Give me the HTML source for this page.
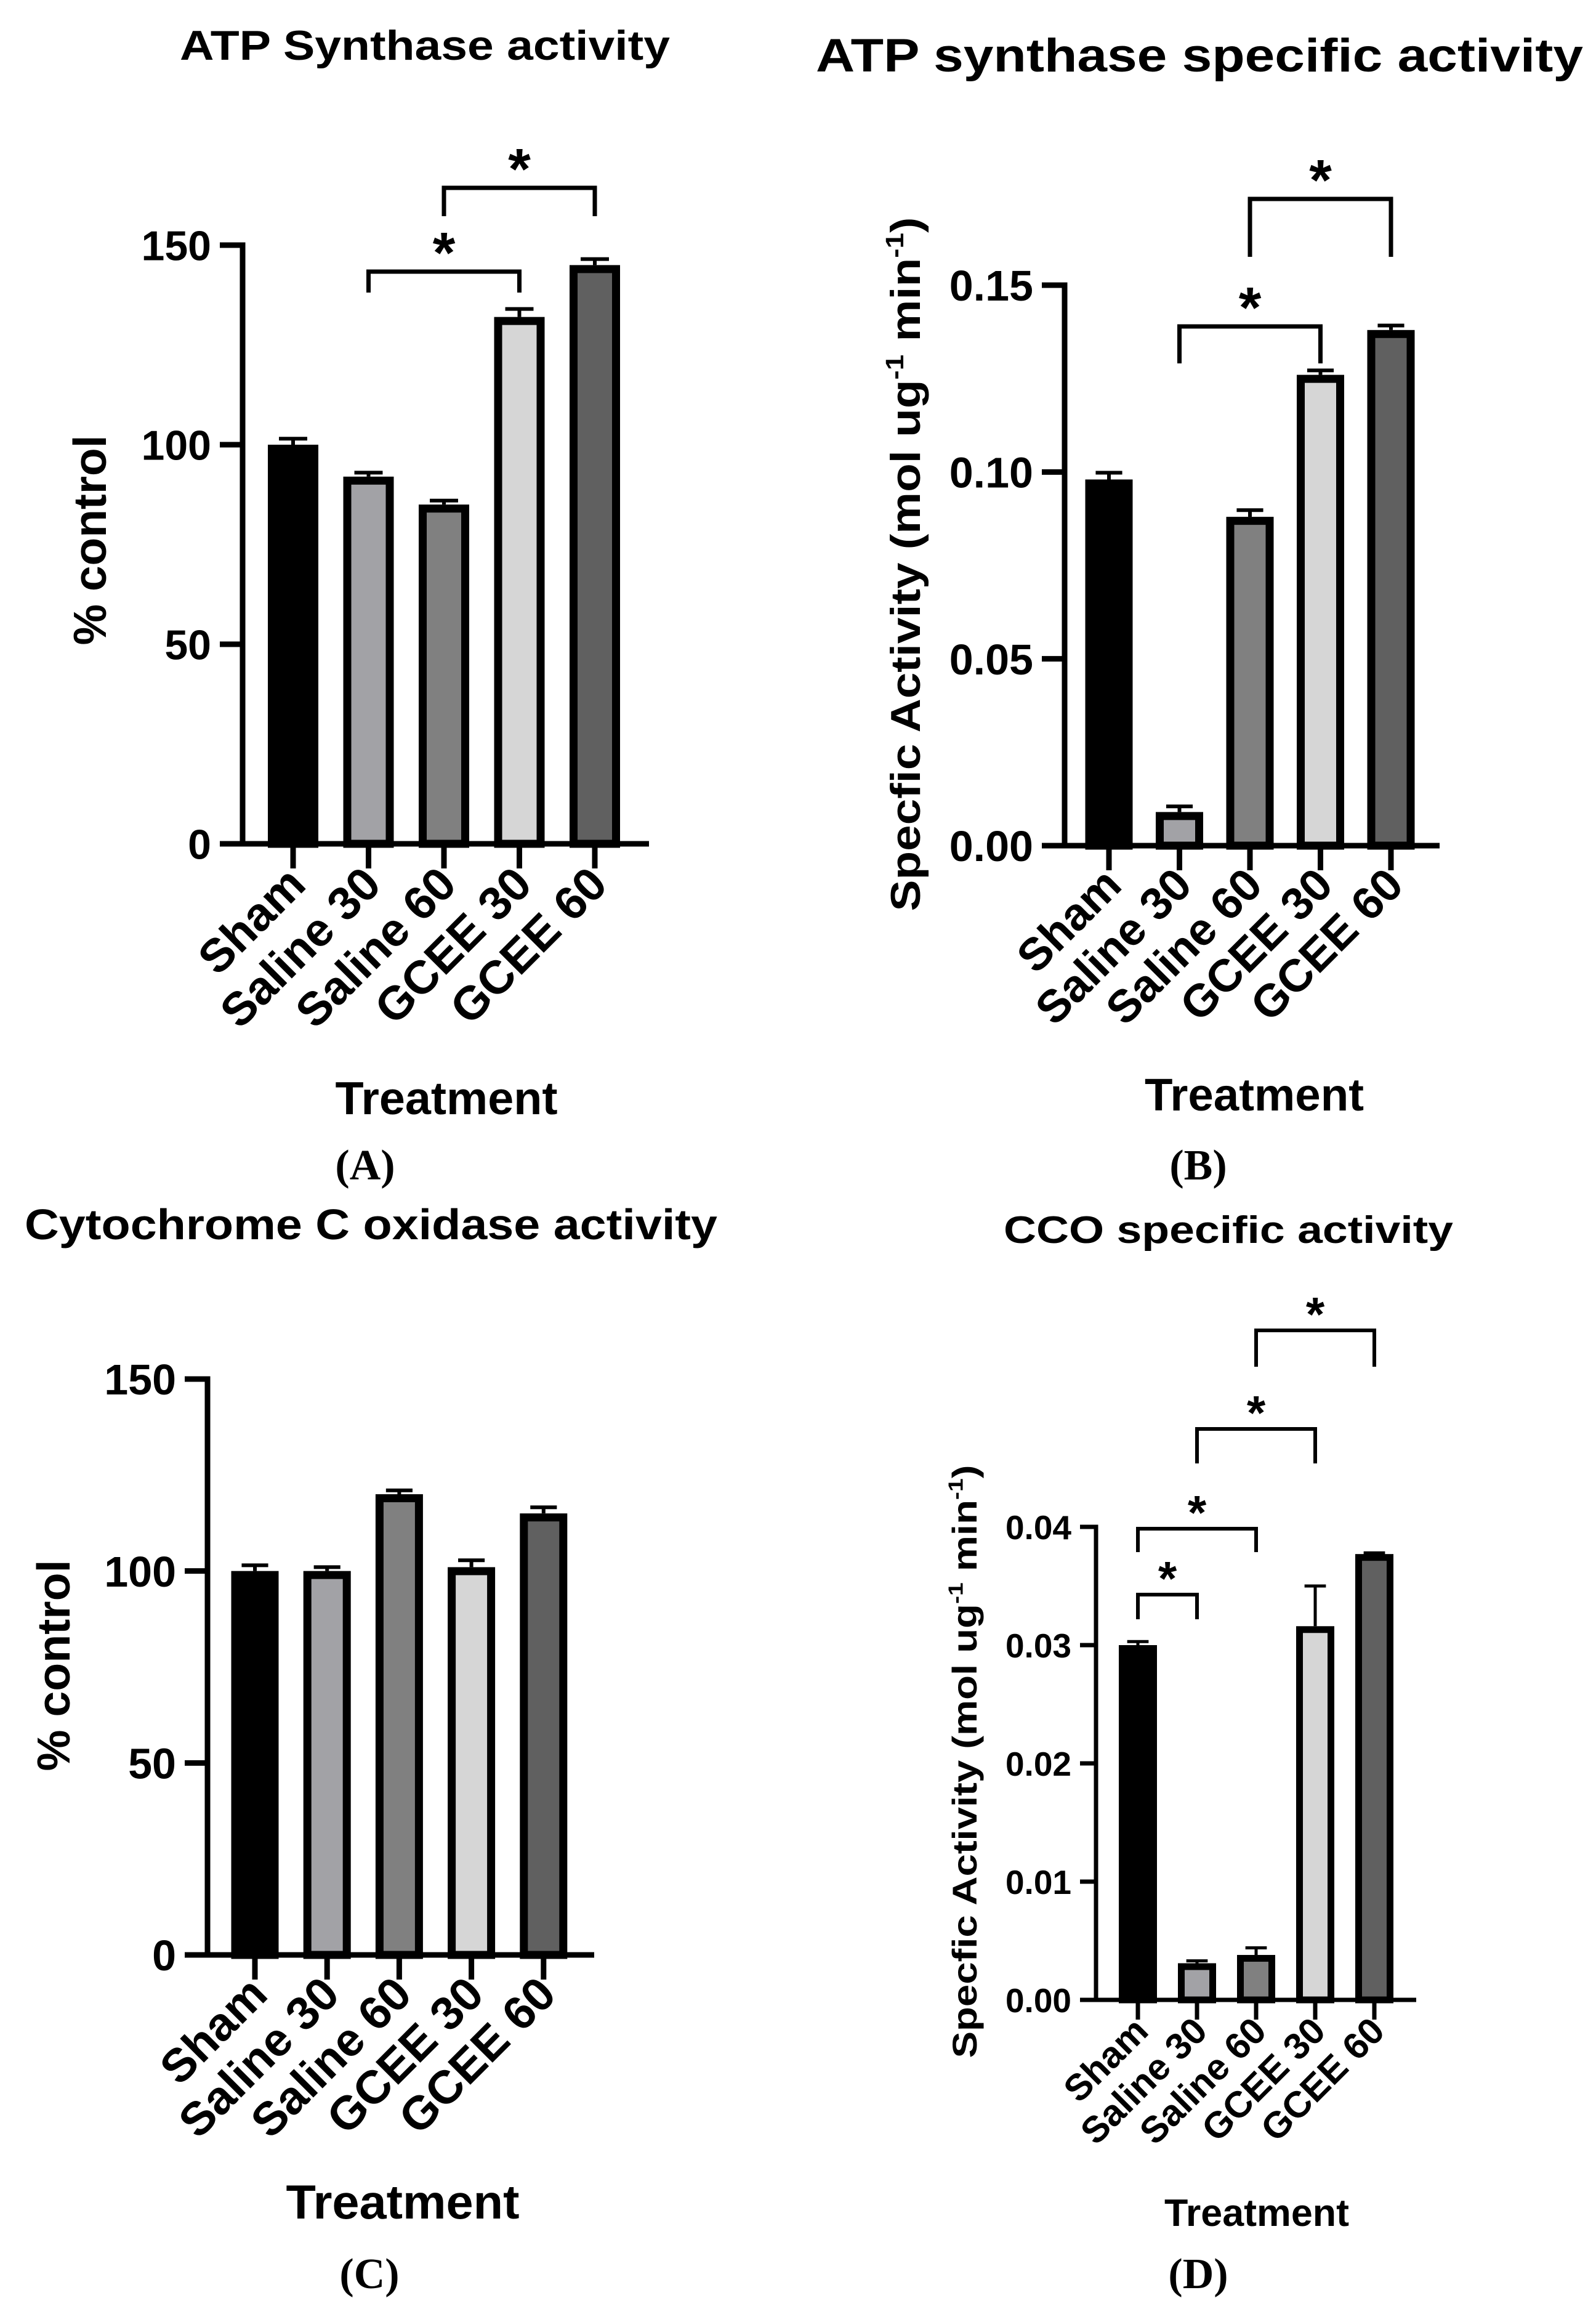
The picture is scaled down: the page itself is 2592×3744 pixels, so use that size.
<!DOCTYPE html>
<html><head><meta charset="utf-8"><style>
html,body{margin:0;padding:0;background:#fff}
svg{display:block}
text{font-family:"Liberation Sans",sans-serif;font-weight:bold;fill:#000}
.paren{font-family:"Liberation Serif",serif;font-weight:bold}
</style></head><body>
<svg id="fig" width="2592" height="3744" viewBox="0 0 2592 3744" xmlns="http://www.w3.org/2000/svg"></svg>
<script>
const categories = ["Sham","Saline 30","Saline 60","GCEE 30","GCEE 60"];
const barColors = ["#000000","#a2a2a6","#808080","#d6d6d6","#606060"];
const valuesA = [100, 92, 85, 132, 145];
const errorsA = [1.5, 1, 1, 2, 1.5];
const ticksA = [0, 50, 100, 150];
const tickLabelsA = ["0","50","100","150"];
const valuesB = [0.098, 0.009, 0.088, 0.126, 0.138];
const errorsB = [0.0018, 0.0015, 0.0018, 0.0012, 0.0012];
const ticksB = [0, 0.05, 0.10, 0.15];
const tickLabelsB = ["0.00","0.05","0.10","0.15"];
const valuesC = [100, 100, 120, 101, 115];
const errorsC = [1.5, 1, 1, 1.8, 1.6];
const ticksC = [0, 50, 100, 150];
const tickLabelsC = ["0","50","100","150"];
const valuesD = [0.0300, 0.0031, 0.0038, 0.0316, 0.0377];
const errorsD = [0.0003, 0.0002, 0.0006, 0.0034, 0.0001];
const ticksD = [0, 0.01, 0.02, 0.03, 0.04];
const tickLabelsD = ["0.00","0.01","0.02","0.03","0.04"];

const NS = "http://www.w3.org/2000/svg";
const svg = document.getElementById("fig");
function mk(tag, attrs, parent){
  const e = document.createElementNS(NS, tag);
  for (const k in attrs) e.setAttribute(k, attrs[k]);
  (parent||svg).appendChild(e);
  return e;
}

function panel(cfg){
  const g = mk("g", {});
  
  
  const yS = v => cfg.y0 - (v - 0) * (cfg.y0 - cfg.yTop) / (cfg.ticks[cfg.ticks.length-1]);
  const xS = i => cfg.cx0 + i * cfg.step;
  cfg.values.forEach((v, i) => {
    const x = xS(i), w = cfg.barW, sw = cfg.barStroke;
    const top = yS(v);
    const r = mk("rect", {x: x - w/2 + sw/2, y: top + sw/2, width: w - sw, height: cfg.y0 - top - sw/2, fill: cfg.colors[i], stroke: "#000", "stroke-width": sw}, g);
    
    
    const et = yS(v + cfg.errors[i]);
    const el = mk("path", {d: `M${x} ${top} V${et} M${x - w*0.28} ${et} H${x + w*0.28}`, stroke: "#000", "stroke-width": cfg.errW, fill: "none"}, g);
    
    
  });
  const ax = mk("path", {d: `M${cfg.x0} ${cfg.yTop - cfg.axW/2} V${cfg.y0} M${cfg.tickL} ${cfg.y0} H${cfg.xEnd}`, stroke: "#000", "stroke-width": cfg.axW, fill: "none"}, g);
  
  
  cfg.ticks.forEach((t, k) => {
    const y = yS(t);
    const tk = mk("path", {d: `M${cfg.tickL} ${y} H${cfg.x0}`, stroke: "#000", "stroke-width": cfg.axW}, g);
    
    
    const tl = mk("text", {x: cfg.tickL - 14, y: y + cfg.tickFont*0.36, "text-anchor": "end", "font-size": cfg.tickFont}, g);
    tl.textContent = cfg.tickLabels[k];
    
    
  });
  categories.forEach((c, i) => {
    const x = xS(i);
    const tk = mk("path", {d: `M${x} ${cfg.y0} V${cfg.y0 + cfg.tickLen}`, stroke: "#000", "stroke-width": cfg.axW}, g);
    
    
    const lx = x + cfg.labDx, ly = cfg.y0 + cfg.tickLen + cfg.labDy;
    const tl = mk("text", {x: lx, y: ly, "text-anchor": "end", "font-size": cfg.catFont, transform: `rotate(-45 ${lx} ${ly})`}, g);
    tl.textContent = c;
    
    
  });
  const tt = mk("text", {x: cfg.title[1], y: cfg.title[2], "font-size": cfg.title[3], textLength: cfg.title[4], lengthAdjust: "spacingAndGlyphs"}, g);
  tt.textContent = cfg.title[0];
  
  
  const yl = mk("text", {x: 0, y: 0, "text-anchor": "middle", "font-size": cfg.ylab.size, textLength: cfg.ylab.len, lengthAdjust: "spacingAndGlyphs", transform: `translate(${cfg.ylab.x} ${cfg.ylab.y}) rotate(-90)`}, g);
  if (cfg.ylab.sup) {
    yl.innerHTML = 'Specfic Activity (mol ug<tspan dy="-' + (cfg.ylab.size*0.4) + '" font-size="' + (cfg.ylab.size*0.6) + '">-1</tspan><tspan dy="' + (cfg.ylab.size*0.4) + '"> min</tspan><tspan dy="-' + (cfg.ylab.size*0.4) + '" font-size="' + (cfg.ylab.size*0.6) + '">-1</tspan><tspan dy="' + (cfg.ylab.size*0.4) + '">)</tspan>';
  } else yl.textContent = cfg.ylab.text;
  
  
  const xl = mk("text", {x: cfg.xlab[0], y: cfg.xlab[1], "text-anchor": "middle", "font-size": cfg.xlab[2], textLength: cfg.xlab[3], lengthAdjust: "spacingAndGlyphs"}, g);
  xl.textContent = "Treatment";
  
  
  const pl = mk("text", {x: cfg.letter[1], y: cfg.letter[2], "text-anchor": "middle", "font-size": 70, "class": "paren"}, g);
  pl.textContent = cfg.letter[0];
  
  
  cfg.brackets.forEach(b => {
    const x1 = xS(b[0]), x2 = xS(b[1]);
    const p = mk("path", {d: `M${x1} ${b[3]} V${b[2]} H${x2} V${b[3]}`, stroke: "#000", "stroke-width": cfg.brW, fill: "none"}, g);
    
    
    const s = mk("text", {x: (x1 + x2)/2, y: b[2] - cfg.starGap + cfg.starSize*0.57, "text-anchor": "middle", "font-size": cfg.starSize}, g);
    s.textContent = "*";
    
    
  });
}

panel({id:"panel-a", values: valuesA, errors: errorsA, ticks: ticksA, tickLabels: tickLabelsA, colors: barColors,
  x0:394, y0:1370, yTop:398, cx0:476, step:122.5, barW:82, barStroke:13, errW:6, axW:9, tickL:357, xEnd:1054, tickLen:40,
  tickFont:68, catFont:76, labDx:24, labDy:30,
  title:["ATP Synthase activity",292,97,68,796],
  ylab:{text:"% control", x:172, y:877, size:75, len:341},
  xlab:[725,1809,75,361], letter:["(A)",593,1915],
  brackets:[[1,3,441,475],[2,4,305,351]], brW:7, starSize:94, starGap:52});

panel({id:"panel-b", values: valuesB, errors: errorsB, ticks: ticksB, tickLabels: tickLabelsB, colors: barColors,
  x0:1729, y0:1373, yTop:463, cx0:1801, step:114.5, barW:77, barStroke:13, errW:6, axW:9, tickL:1692, xEnd:2338, tickLen:40,
  tickFont:70, catFont:74, labDx:24, labDy:28,
  title:["ATP synthase specific activity",1325,116,76,1246],
  ylab:{sup:true, x:1494, y:916, size:68, len:1127},
  xlab:[2037,1803,74,356], letter:["(B)",1946,1915],
  brackets:[[1,3,530,590],[2,4,323,417]], brW:7, starSize:94, starGap:52});

panel({id:"panel-c", values: valuesC, errors: errorsC, ticks: ticksC, tickLabels: tickLabelsC, colors: barColors,
  x0:337, y0:3174, yTop:2239, cx0:414, step:117.2, barW:77, barStroke:13, errW:6, axW:9, tickL:300, xEnd:965, tickLen:40,
  tickFont:70, catFont:76, labDx:24, labDy:28,
  title:["Cytochrome C oxidase activity",40,2012,70,1125],
  ylab:{text:"% control", x:113, y:2704, size:75, len:343},
  xlab:[654,3602,78,379], letter:["(C)",600,3715],
  brackets:[], brW:7, starSize:94, starGap:52});

panel({id:"panel-d", values: valuesD, errors: errorsD, ticks: ticksD, tickLabels: tickLabelsD, colors: barColors,
  x0:1780, y0:3247, yTop:2479, cx0:1848, step:96, barW:62, barStroke:11, errW:5, axW:7, tickL:1754, xEnd:2300, tickLen:32,
  tickFont:55, catFont:60, labDx:20, labDy:22,
  title:["CCO specific activity",1630,2018,62,730],
  ylab:{sup:true, x:1586, y:2860, size:56, len:963},
  xlab:[2041,3614,62,300], letter:["(D)",1946,3715],
  brackets:[[0,1,2589,2629],[0,2,2482,2520],[1,3,2320,2376],[2,4,2160,2219]], brW:6, starSize:78, starGap:44});
</script>
</body></html>
